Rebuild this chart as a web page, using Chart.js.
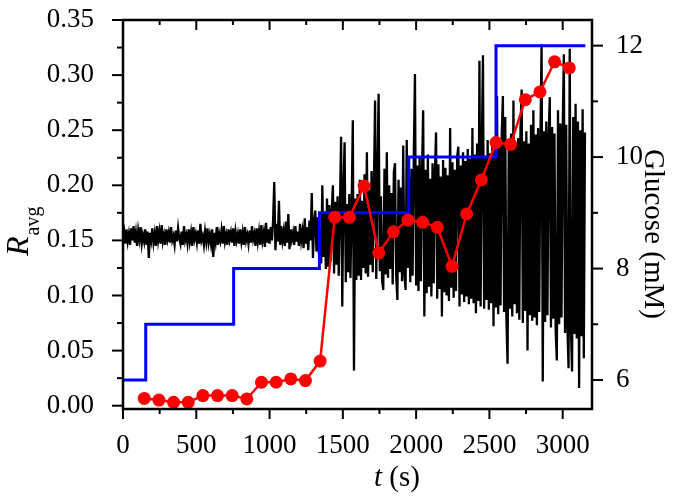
<!DOCTYPE html>
<html><head><meta charset="utf-8">
<script src="https://cdn.jsdelivr.net/npm/chart.js@4.4.1/dist/chart.umd.min.js"></script>
<style>html,body{margin:0;padding:0;background:#fff;}canvas{display:block;}</style>
</head><body>
<canvas id="c" width="677" height="502"></canvas>
<script>
// R_avg signal, one reading every rStep seconds starting at t = 0
const rStep = 8;
const rAvg = [
0.152,0.158,0.147,0.160,0.149,0.156,0.146,0.161,0.150,0.163,0.148,0.157,0.145,0.159,0.151,0.162,0.147,0.155,0.149,0.160,0.146,0.158,0.134,0.157,0.150,
0.161,0.148,0.156,0.145,0.163,0.150,0.158,0.147,0.164,0.149,0.155,0.146,0.160,0.151,0.157,0.148,0.162,0.150,0.154,0.146,0.159,0.149,0.161,0.152,0.147,
0.158,0.146,0.163,0.150,0.155,0.147,0.160,0.149,0.157,0.145,0.162,0.151,0.156,0.148,0.159,0.147,0.165,0.150,0.154,0.146,0.158,0.149,0.161,0.148,0.155,
0.147,0.160,0.135,0.157,0.149,0.162,0.146,0.156,0.150,0.159,0.147,0.163,0.149,0.155,0.146,0.160,0.151,0.157,0.148,0.161,0.145,0.158,0.150,0.156,0.147,
0.160,0.149,0.157,0.146,0.162,0.150,0.155,0.147,0.159,0.148,0.163,0.151,0.156,0.145,0.161,0.149,0.158,0.146,0.164,0.150,0.157,0.144,0.166,0.148,0.160,
0.147,0.162,0.150,0.168,0.203,0.141,0.165,0.149,0.186,0.146,0.163,0.150,0.158,0.145,0.167,0.148,0.174,0.142,0.160,0.151,0.157,0.146,0.163,0.149,0.158,
0.145,0.165,0.150,0.158,0.143,0.170,0.147,0.162,0.141,0.168,0.150,0.193,0.134,0.166,0.177,0.140,0.171,0.138,0.160,0.129,0.200,0.135,0.176,0.124,0.188,
0.126,0.182,0.131,0.175,0.200,0.120,0.185,0.128,0.190,0.118,0.178,0.244,0.090,0.195,0.239,0.112,0.183,0.121,0.192,0.116,0.180,0.259,0.032,0.188,0.114,
0.192,0.118,0.205,0.114,0.186,0.125,0.210,0.120,0.230,0.117,0.196,0.128,0.213,0.121,0.199,0.277,0.115,0.207,0.283,0.122,0.190,0.113,0.105,0.215,0.119,
0.230,0.116,0.200,0.124,0.193,0.110,0.212,0.220,0.118,0.096,0.205,0.121,0.198,0.113,0.236,0.119,0.105,0.241,0.125,0.207,0.112,0.215,0.118,0.226,0.301,
0.109,0.218,0.104,0.225,0.113,0.210,0.268,0.081,0.214,0.102,0.228,0.108,0.206,0.099,0.220,0.111,0.212,0.248,0.097,0.219,0.106,0.208,0.081,0.223,0.103,
0.216,0.100,0.209,0.095,0.252,0.107,0.221,0.098,0.214,0.104,0.226,0.235,0.090,0.218,0.101,0.230,0.094,0.222,0.099,0.233,0.092,0.224,0.097,0.252,0.093,
0.228,0.084,0.238,0.095,0.313,0.090,0.231,0.318,0.088,0.225,0.096,0.241,0.087,0.229,0.093,0.236,0.072,0.244,0.089,0.281,0.083,0.237,0.091,0.246,0.281,
0.085,0.262,0.079,0.038,0.239,0.088,0.247,0.081,0.277,0.092,0.236,0.084,0.243,0.078,0.251,0.287,0.075,0.240,0.086,0.249,0.050,0.238,0.082,0.255,0.077,
0.268,0.080,0.246,0.073,0.252,0.085,0.241,0.328,0.022,0.249,0.076,0.258,0.082,0.244,0.280,0.071,0.253,0.079,0.247,0.068,0.041,0.268,0.074,0.256,0.080,
0.251,0.319,0.066,0.255,0.072,0.034,0.324,0.070,0.031,0.262,0.065,0.274,0.061,0.258,0.016,0.250,0.063,0.269,0.043,0.248
];

// Glucose set point (mM), step changes
const glucoseTime  = [0, 155, 755, 1340, 1950, 2545, 3155];
const glucoseLevel = [6, 7, 8, 9, 10, 12, 12];

// Estimated glucose (mM), red dots
const estTime = [145,245,345,445,545,645,745,845,945,1045,1145,1245,1345,1445,1545,1645,1745,1845,1945,2045,2145,2245,2345,2445,2545,2645,2745,2845,2945,3045];
const estGlucose = [5.67,5.64,5.60,5.60,5.72,5.72,5.72,5.66,5.96,5.96,6.02,5.99,6.34,8.92,8.92,9.48,8.28,8.66,8.87,8.83,8.74,8.04,8.98,9.59,10.26,10.23,11.03,11.17,11.71,11.60];

// Axis ticks
const xTicks = [0,500,1000,1500,2000,2500,3000];
const xMinorTicks = [250,750,1250,1750,2250,2750];
const leftTicks = [0,0.05,0.10,0.15,0.20,0.25,0.30,0.35];
const leftMinorTicks = [0.025,0.075,0.125,0.175,0.225,0.275,0.325];
const rightTicks = [6,8,10,12];
const rightMinorTicks = [7,9,11];

const SERIF = "'Liberation Serif','Times New Roman',Times,serif";

const framePlugin = {
  id: 'frame',
  beforeDraw(c) {
    const ctx = c.ctx;
    ctx.save(); ctx.fillStyle = '#fff'; ctx.fillRect(0, 0, c.width, c.height); ctx.restore();
  },
  afterDatasetsDraw(c) {
    const {ctx, chartArea: a, scales} = c;
    const sx = scales.x, sy = scales.y, sy2 = scales.y2;
    ctx.save();
    ctx.strokeStyle = '#000';
    ctx.lineCap = 'butt';
    const seg = (x1, y1, x2, y2) => { ctx.beginPath(); ctx.moveTo(x1, y1); ctx.lineTo(x2, y2); ctx.stroke(); };
    ctx.lineWidth = 2;
    xTicks.forEach(v => { const p = sx.getPixelForValue(v); seg(p, a.bottom, p, a.bottom + 10); seg(p, a.top, p, a.top + 10); });
    xMinorTicks.forEach(v => { const p = sx.getPixelForValue(v); seg(p, a.bottom, p, a.bottom + 5); seg(p, a.top, p, a.top + 5); });
    leftTicks.forEach(v => { const p = sy.getPixelForValue(v); seg(a.left - 11, p, a.left, p); });
    leftMinorTicks.forEach(v => { const p = sy.getPixelForValue(v); seg(a.left - 6, p, a.left, p); });
    rightTicks.forEach(v => { const p = sy2.getPixelForValue(v); seg(a.right, p, a.right + 11, p); });
    rightMinorTicks.forEach(v => { const p = sy2.getPixelForValue(v); seg(a.right, p, a.right + 6, p); });
    ctx.lineWidth = 2.5;
    ctx.strokeRect(a.left, a.top, a.right - a.left, a.bottom - a.top);

    // axis titles
    ctx.fillStyle = '#000';
    ctx.textBaseline = 'alphabetic';
    ctx.textAlign = 'left';
    ctx.font = 'italic 29px ' + SERIF;
    const tw = ctx.measureText('t').width;
    ctx.font = '29px ' + SERIF;
    const sw = ctx.measureText(' (s)').width;
    const bx = 397 - (tw + sw) / 2, by = 486;
    ctx.font = 'italic 29px ' + SERIF; ctx.fillText('t', bx, by);
    ctx.font = '29px ' + SERIF; ctx.fillText(' (s)', bx + tw, by);
    ctx.save();
    ctx.translate(645, 149); ctx.rotate(Math.PI / 2);
    ctx.font = '29px ' + SERIF; ctx.fillText('Glucose (mM)', 0, 0);
    ctx.restore();
    ctx.save();
    ctx.translate(28, 256); ctx.rotate(-Math.PI / 2);
    ctx.font = 'italic 32px ' + SERIF; ctx.fillText('R', 0, 0);
    const rw = ctx.measureText('R').width;
    ctx.font = '20px ' + SERIF; ctx.fillText('avg', rw + 1, 11);
    ctx.restore();
    ctx.restore();
  }
};

const tickFont = {family: SERIF, size: 27};
const noPadV = s => { s.paddingTop = 0; s.paddingBottom = 0; };

new Chart(document.getElementById('c'), {
  type: 'line',
  data: {
    datasets: [
      {
        label: 'Estimated glucose',
        data: estTime.map((t, i) => ({x: t, y: estGlucose[i]})),
        yAxisID: 'y2',
        borderColor: '#ff0000', backgroundColor: '#ff0000',
        borderWidth: 2.5,
        pointRadius: 6.5, pointBorderWidth: 0, pointBackgroundColor: '#ff0000',
        tension: 0, fill: false
      },
      {
        label: 'Glucose',
        data: glucoseTime.map((t, i) => ({x: t, y: glucoseLevel[i]})),
        yAxisID: 'y2',
        borderColor: '#0000ff', borderWidth: 3,
        stepped: 'before', pointRadius: 0, fill: false
      },
      {
        label: 'R_avg',
        data: rAvg.map((v, i) => ({x: i * rStep, y: v})),
        yAxisID: 'y',
        borderColor: '#000', borderWidth: 2.3,
        pointRadius: 0, tension: 0, fill: false
      }
    ]
  },
  options: {
    responsive: false, animation: false, devicePixelRatio: 1,
    layout: {padding: {top: 20, left: 0, right: 0, bottom: 0}},
    plugins: {legend: {display: false}, tooltip: {enabled: false}},
    scales: {
      x: {
        type: 'linear', position: 'bottom', min: 0, max: 3200,
        grid: {display: false}, border: {display: false},
        ticks: {font: tickFont, color: '#000', padding: 13, maxRotation: 0, autoSkip: false, callback: v => String(v)},
        afterBuildTicks: s => { s.ticks = xTicks.map(v => ({value: v})); },
        afterFit: s => { s.height = 93; s.paddingLeft = 0; s.paddingRight = 0; }
      },
      y: {
        type: 'linear', position: 'left', min: -0.003, max: 0.35,
        grid: {display: false}, border: {display: false},
        ticks: {font: tickFont, color: '#000', padding: 21, callback: v => v.toFixed(2)},
        afterBuildTicks: s => { s.ticks = leftTicks.map(v => ({value: v})); },
        afterFit: s => { s.width = 123; noPadV(s); }
      },
      y2: {
        type: 'linear', position: 'right', min: 5.48, max: 12.46,
        grid: {display: false}, border: {display: false},
        ticks: {font: tickFont, color: '#000', padding: 16, callback: v => String(v)},
        afterBuildTicks: s => { s.ticks = rightTicks.map(v => ({value: v})); },
        afterFit: s => { s.width = 85; noPadV(s); }
      }
    }
  },
  plugins: [framePlugin]
});
</script>
</body></html>
